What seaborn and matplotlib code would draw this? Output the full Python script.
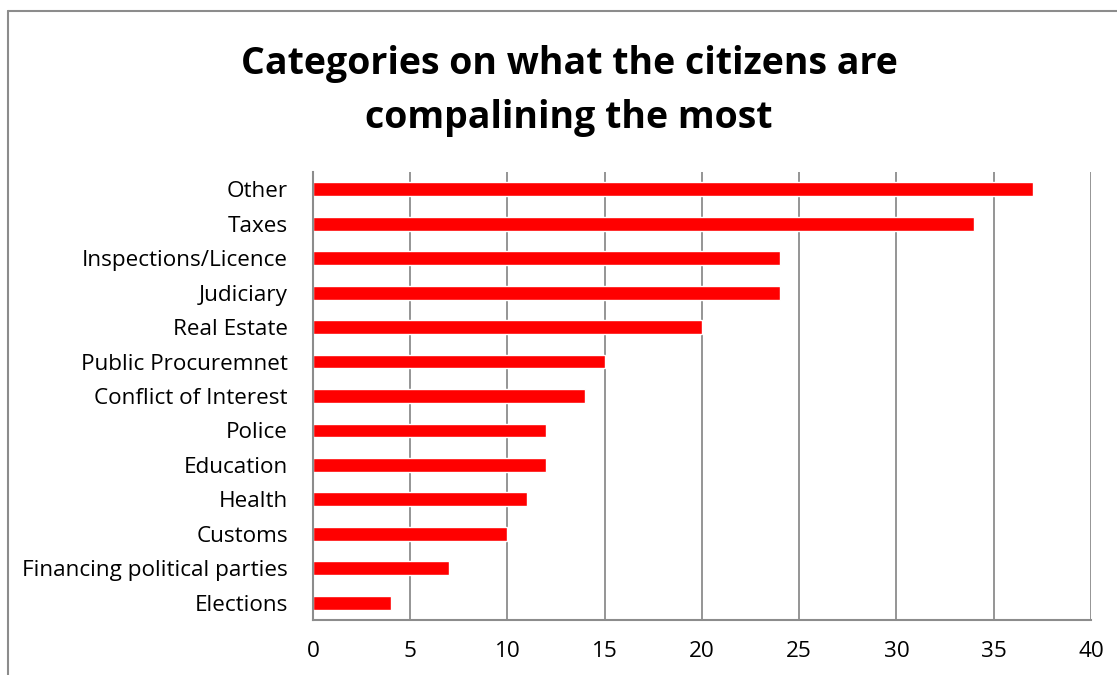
import matplotlib
matplotlib.use("Agg")
import matplotlib.pyplot as plt
import seaborn as sns
import pandas as pd
from matplotlib.lines import Line2D

categories = ["Other", "Taxes", "Inspections/Licence", "Judiciary", "Real Estate",
              "Public Procuremnet", "Conflict of Interest", "Police", "Education",
              "Health", "Customs", "Financing political parties", "Elections"]
values = [37, 34, 24, 24, 20, 15, 14, 12, 12, 11, 10, 7, 4]
x_ticks = [0, 5, 10, 15, 20, 25, 30, 35, 40]

df = pd.DataFrame({"category": categories, "value": values})

sns.set_theme(style="white")
plt.rcParams['font.family'] = ['Open Sans', 'DejaVu Sans']
plt.rcParams['text.color'] = 'black'

W, H = 1117, 675
fig = plt.figure(figsize=(W / 100, H / 100), dpi=100)
ax = fig.add_axes([313 / W, 1 - 620 / H, (1091 - 313) / W, (620 - 172) / H])

sns.barplot(data=df, x="value", y="category", orient="h", color="#FF0000",
            saturation=1, width=0.4, ax=ax, order=categories)

ax.set_xlim(0, 40)
ax.set_ylim(12.5, -0.5)
ax.set_xticks(x_ticks)
ax.set_xticklabels([str(t) for t in x_ticks])
ax.xaxis.grid(True, color="#8C8C8C", linewidth=1.3)
ax.set_axisbelow(True)
ax.set_xlabel("")
ax.set_ylabel("")
ax.tick_params(axis="x", length=0, pad=15, labelsize=16.2, colors="black")
ax.tick_params(axis="y", length=0, pad=18, labelsize=16.2, colors="black")
for s in ["top", "right"]:
    ax.spines[s].set_visible(False)
for s in ["left", "bottom"]:
    ax.spines[s].set_color("#8C8C8C")
    ax.spines[s].set_linewidth(1.5)

fig.text(569 / W, 1 - 91 / H, "Categories on what the citizens are\ncompalining the most",
         ha="center", va="center", fontsize=27, fontweight="bold", linespacing=1.55,
         color="black")

# figure border (left and top visible)
fig.add_artist(Line2D([8 / W, 8 / W], [0, 1 - 11 / H], transform=fig.transFigure,
                      color="#8C8C8C", linewidth=1.5))
fig.add_artist(Line2D([8 / W, 1.0], [1 - 11 / H, 1 - 11 / H], transform=fig.transFigure,
                      color="#8C8C8C", linewidth=1.5))

fig.savefig("out.png", dpi=100)
